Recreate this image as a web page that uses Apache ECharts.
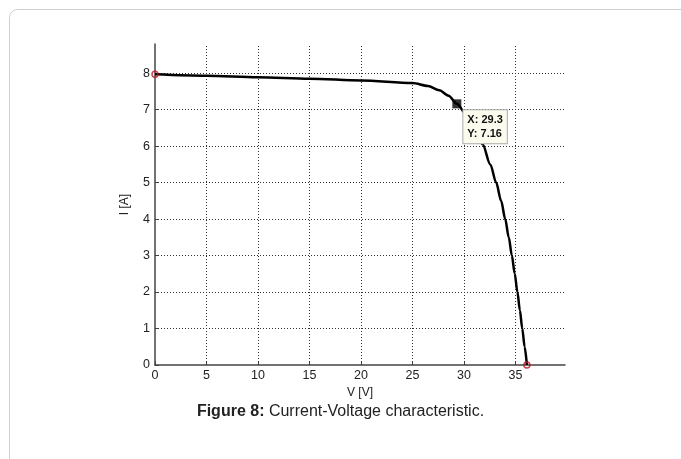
<!DOCTYPE html>
<html>
<head>
<meta charset="utf-8">
<script src="https://cdn.jsdelivr.net/npm/echarts@6/dist/echarts.min.js"></script>
<style>
html,body{margin:0;padding:0;background:#fff;}
#chart{width:681px;height:459px;}
</style>
</head>
<body>
<div id="chart"></div>
<script>
// I-V curve
const voltage = [0, 5, 10, 15, 20, 25, 26.5, 27.6, 28.5, 29.3, 30.15, 31.0, 31.8, 32.55, 33.12, 33.6, 34.0, 34.34, 34.64, 34.92, 35.18, 35.42, 35.65, 35.88, 36.1];
const current = [7.97, 7.93, 7.89, 7.85, 7.80, 7.73, 7.65, 7.53, 7.38, 7.16, 6.9, 6.5, 6.05, 5.5, 5.0, 4.5, 4.0, 3.5, 3.0, 2.5, 2.0, 1.5, 1.0, 0.5, 0];
const dataTip = [29.3, 7.16];
const endPointsV = [0, 36.1];
const endPointsI = [7.97, 0];
const xTicks = [0, 5, 10, 15, 20, 25, 30, 35];
const yTicks = [0, 1, 2, 3, 4, 5, 6, 7, 8];
const xName = 'V [V]';
const yName = 'I [A]';
const captionBold = 'Figure 8:';
const captionText = ' Current-Voltage characteristic.';

const chart = echarts.init(document.getElementById('chart'));
const font = 'Liberation Sans, Arial, sans-serif';
const dotted = {color: '#333', width: 1, type: [1, 2]};

const gridLines = xTicks.filter(v => v > 0).map(v => ({xAxis: v}))
  .concat(yTicks.filter(v => v > 0).map(v => ({yAxis: v})));

chart.setOption({
  animation: false,
  backgroundColor: '#fff',
  grid: {left: 155, top: 44, width: 410, height: 321},
  xAxis: {
    type: 'value', min: 0, max: 39.8, interval: 5,
    name: xName, nameLocation: 'middle', nameGap: 21,
    nameTextStyle: {fontFamily: font, fontSize: 12, color: '#222'},
    axisLine: {show: true, lineStyle: {color: '#444', width: 1.5}},
    axisTick: {show: true, inside: true, length: 4, lineStyle: {color: '#444'}},
    axisLabel: {fontFamily: font, fontSize: 12.5, color: '#222', margin: 4, showMaxLabel: false,
      formatter: v => xTicks.includes(v) ? String(v) : ''},
    splitLine: {show: false}
  },
  yAxis: {
    type: 'value', min: 0, max: 8.8, interval: 1,
    name: yName, nameLocation: 'middle', nameGap: 24, nameRotate: 90,
    nameTextStyle: {fontFamily: font, fontSize: 12, color: '#222'},
    axisLine: {show: true, lineStyle: {color: '#444', width: 1.5}},
    axisTick: {show: true, inside: true, length: 4, lineStyle: {color: '#444'}},
    axisLabel: {fontFamily: font, fontSize: 12.5, color: '#222', margin: 5, showMaxLabel: false,
      formatter: v => yTicks.includes(v) ? String(v) : ''},
    splitLine: {show: false}
  },
  series: [
    {
      type: 'line', data: voltage.map((v, i) => [v, current[i]]),
      smooth: 0.3, smoothMonotone: 'x', showSymbol: false, z: 2,
      lineStyle: {color: '#000', width: 2.5},
      markLine: {
        silent: true, symbol: 'none', label: {show: false}, z: 1,
        lineStyle: dotted, emphasis: {disabled: true},
        data: gridLines
      }
    },
    {
      type: 'scatter', data: endPointsV.map((v, i) => [v, endPointsI[i]]),
      symbol: 'circle', symbolSize: 6, z: 4,
      itemStyle: {color: 'rgba(255,255,255,0)', borderColor: '#c0141b', borderWidth: 1.5}
    },
    {
      type: 'scatter', data: [dataTip], zlevel: 2,
      symbol: 'rect', symbolSize: 9, z: 10,
      itemStyle: {color: '#000'},
      label: {
        show: true, position: [11, 11],
        formatter: p => 'X: ' + p.value[0] + '\nY: ' + p.value[1],
        fontFamily: font, fontSize: 11, lineHeight: 14, color: '#111', fontWeight: 'bold',
        backgroundColor: '#fbfbee', borderColor: '#aaa', borderWidth: 1,
        padding: [3, 4, 2, 4], opacity: 1
      },
      labelLayout: {moveOverlap: false, hideOverlap: false}
    }
  ],
  graphic: [
    {type: 'rect', left: 7, top: 7, z: -10, shape: {width: 700, height: 480, r: 8},
     style: {fill: 'none', stroke: '#cfcfcf', lineWidth: 1}},
    {type: 'text', left: 'center', top: 404,
     style: {
       text: '{b|' + captionBold + '}{n|' + captionText + '}',
       rich: {
         b: {fontFamily: font, fontSize: 16, fontWeight: 'bold', fill: '#222'},
         n: {fontFamily: font, fontSize: 16, fill: '#222'}
       }
     }}
  ]
});
</script>
</body>
</html>
